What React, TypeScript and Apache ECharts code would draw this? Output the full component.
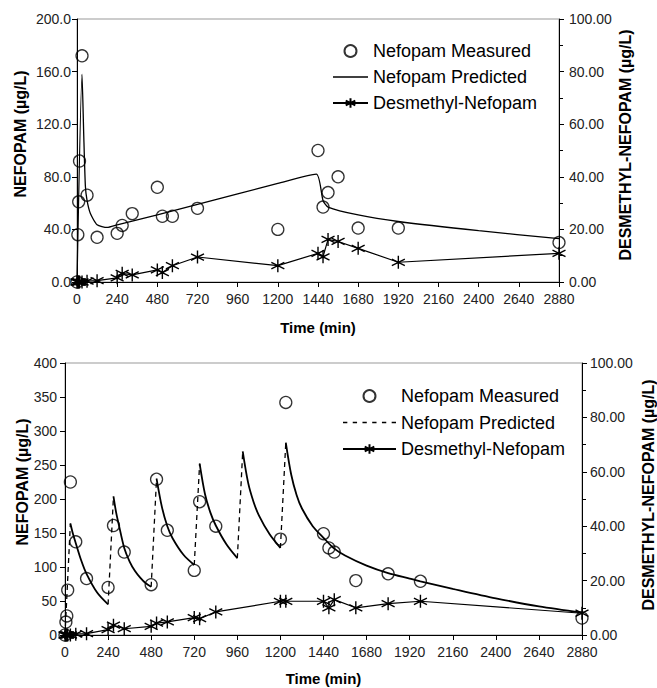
import React, { useEffect, useRef } from "react";
import * as echarts from "echarts";

const FONT = 'Arial, "Liberation Sans", Helvetica, sans-serif';

// ---------- Top chart data ----------
const topMeasuredTime = [0, 5, 10, 15, 30, 60, 120, 240, 270, 330, 480, 510, 570, 720, 1200, 1440, 1470, 1500, 1560, 1680, 1920, 2880];
const topMeasured = [0, 36, 61, 92, 172, 66, 34, 37, 43, 52, 72, 50, 50, 56, 40, 100, 57, 68, 80, 41, 41, 30];

const topPredTime = [0, 30, 40, 50, 60, 80, 120, 180, 240, 480, 720, 960, 1200, 1430, 1470, 1500, 1680, 1920, 2400, 2880];
const topPred = [0, 158, 113, 73, 62, 52, 43.5, 41.5, 43.5, 51, 59, 67, 75, 82, 62, 57, 51, 46, 39, 33];

const topDesTime = [0, 5, 10, 15, 30, 60, 120, 240, 270, 330, 480, 510, 570, 720, 1200, 1440, 1470, 1500, 1560, 1680, 1920, 2880];
const topDes = [0, 0, 0, 0, 0, 0.3, 0.5, 1.6, 3.3, 2.7, 4.6, 3.6, 6.2, 9.5, 6.2, 10.9, 9.6, 16.2, 15.4, 12.8, 7.5, 10.9];

// ---------- Bottom chart data ----------
const botMeasuredTime = [0, 5, 10, 15, 30, 60, 120, 240, 270, 330, 480, 510, 570, 720, 750, 840, 1200, 1230, 1440, 1470, 1500, 1620, 1800, 1980, 2880];
const botMeasured = [0, 19, 28, 66, 225, 137, 83, 70, 161, 122, 74, 229, 154, 95, 196, 160, 141, 342, 149, 128, 122, 80, 90, 79, 25];

const botDesTime = [0, 5, 10, 15, 30, 60, 120, 240, 270, 330, 480, 510, 570, 720, 750, 840, 1200, 1230, 1440, 1470, 1500, 1620, 1800, 1980, 2880];
const botDes = [0, 0, 0, 0, 0, 0.3, 0.5, 2, 3.6, 2.3, 3.2, 4.4, 4.8, 6.4, 6.0, 8.5, 12.4, 12.4, 12.4, 10, 13, 10, 11.5, 12.4, 8.0];

// predicted concentration, one list per dosing interval: [time, value]
const botPredIntervals: number[][][] = [
  [[30, 164], [45, 148], [60, 135], [90, 110], [120, 90], [180, 62], [240, 45]],
  [[270, 204], [285, 180], [300, 162], [330, 128], [360, 108], [390, 94], [420, 84], [450, 76], [480, 71]],
  [[510, 230], [540, 188], [570, 160], [600, 142], [660, 118], [720, 103]],
  [[750, 252], [780, 207], [810, 180], [840, 161], [900, 133], [960, 113]],
  [[990, 270], [1020, 224], [1050, 196], [1080, 176], [1140, 148], [1200, 128]],
  [[1230, 283], [1260, 236], [1290, 206], [1320, 186], [1380, 160], [1440, 143], [1500, 127], [1560, 117], [1680, 102], [1800, 91], [1920, 83], [1980, 79], [2160, 68], [2400, 54], [2640, 42], [2880, 33]],
];
const botPredStart = [0, 0];

const timeTicks = { min: 0, max: 2880, interval: 240 };

const STAR = "path://M10,0L10,20M1.34,5L18.66,15M1.34,15L18.66,5";
const SOLID_ICON = "path://M0,0H35V1.3H0Z";
const DASH_ICON =
  "path://M0,0H4V1.3H0ZM9,0H13V1.3H9ZM18,0H22V1.3H18ZM27,0H31V1.3H27ZM36,0H40V1.3H36ZM45,0H49V1.3H45Z";

const zip = (a: number[], b: number[]) => a.map((t, i) => [t, b[i]]);

export default function App() {
  const ref = useRef<HTMLDivElement>(null);

  useEffect(() => {
    if (!ref.current) return;
    const chart = echarts.init(ref.current, undefined, { renderer: "svg" });

    const decayData: any[] = [];
    const jumpData: any[] = [];
    let prev = botPredStart;
    botPredIntervals.forEach((seg, i) => {
      if (i > 0) decayData.push(null);
      seg.forEach((p) => decayData.push(p));
      jumpData.push(prev, seg[0], null);
      prev = seg[seg.length - 1];
    });

    const axisLine = { show: true, onZero: false, lineStyle: { color: "#000", width: 1 } };
    const axisTick = { show: true, inside: false, length: 5, lineStyle: { color: "#000" } };
    const lbl = (extra: any) => ({ fontSize: 14, fontFamily: FONT, color: "#222", ...extra });

    const xAxisBase = (grid: number, gap: number) => ({
      type: "value",
      gridIndex: grid,
      ...timeTicks,
      axisLine,
      axisTick,
      splitLine: { show: false },
      axisLabel: lbl({ margin: 10, formatter: (v: number) => String(v) }),
      name: "Time (min)",
      nameLocation: "middle",
      nameGap: gap,
      nameTextStyle: { fontSize: 15, fontWeight: "bold", fontFamily: FONT, color: "#000" },
    });

    const rightAxis = (grid: number, margin: number) => ({
      type: "value",
      gridIndex: grid,
      position: "right",
      min: 0,
      max: 100,
      interval: 20,
      axisLine,
      axisTick,
      minorTick: { show: true, splitNumber: 2, length: 4, lineStyle: { color: "#000" } },
      splitLine: { show: false },
      axisLabel: lbl({ margin, formatter: (v: number) => v.toFixed(2) }),
    });

    const measuredStyle = {
      type: "scatter",
      symbol: "circle",
      symbolSize: 12,
      itemStyle: { color: "rgba(0,0,0,0)", borderColor: "#000", borderWidth: 1.3 },
      z: 4,
    };
    const desStyle = {
      type: "line",
      symbol: STAR,
      symbolSize: 13,
      showAllSymbol: true,
      itemStyle: { color: "#000", borderColor: "#000", borderWidth: 1.4 },
      lineStyle: { color: "#000", width: 1.2 },
      z: 3,
    };

    const legendBase = {
      orient: "vertical",
      itemHeight: 12,
      selectedMode: false,
      textStyle: { fontSize: 18, fontFamily: FONT, color: "#000" },
    };

    const titleText = (x: number, y: number, text: string) => ({
      type: "text",
      x,
      y,
      rotation: Math.PI / 2,
      style: {
        text,
        fontSize: 16,
        fontWeight: "bold",
        fontFamily: FONT,
        fill: "#000",
        align: "center",
        verticalAlign: "middle",
      },
    });

    chart.setOption({
      animation: false,
      backgroundColor: "#fff",
      grid: [
        { left: 77, top: 19, width: 482, height: 263, show: true, borderColor: "#999", borderWidth: 1 },
        { left: 65, top: 363, width: 517, height: 272, show: true, borderColor: "#999", borderWidth: 1 },
      ],
      xAxis: [xAxisBase(0, 38), xAxisBase(1, 36)],
      yAxis: [
        {
          type: "value",
          gridIndex: 0,
          position: "left",
          min: 0,
          max: 200,
          interval: 40,
          axisLine,
          axisTick,
          splitLine: { show: false },
          axisLabel: lbl({ margin: 6, formatter: (v: number) => v.toFixed(1) }),
        },
        rightAxis(0, 10),
        {
          type: "value",
          gridIndex: 1,
          position: "left",
          min: 0,
          max: 400,
          interval: 50,
          axisLine,
          axisTick,
          splitLine: { show: false },
          axisLabel: lbl({ margin: 8 }),
        },
        rightAxis(1, 8),
      ],
      legend: [
        {
          ...legendBase,
          left: 327,
          top: 37,
          itemWidth: 35,
          itemGap: 8,
          data: [
            { name: "Nefopam Measured" },
            { name: "Nefopam Predicted", icon: SOLID_ICON, itemStyle: { color: "#000", borderWidth: 0 } },
            { name: "Desmethyl-Nefopam" },
          ],
        },
        {
          ...legendBase,
          left: 337,
          top: 382,
          itemWidth: 53,
          itemGap: 8.5,
          data: [
            { name: "Nefopam Measured" },
            { name: "Nefopam Predicted", icon: DASH_ICON, itemStyle: { color: "#000", borderWidth: 0 } },
            { name: "Desmethyl-Nefopam" },
          ],
        },
      ],
      graphic: [
        titleText(20, 134, "NEFOPAM (µg/L)"),
        titleText(625, 145, "DESMETHYL-NEFOPAM (µg/L)"),
        titleText(22, 482, "NEFOPAM (µg/L)"),
        titleText(648, 495, "DESMETHYL-NEFOPAM (µg/L)"),
      ],
      series: [
        {
          name: "Nefopam Predicted",
          type: "line",
          xAxisIndex: 0,
          yAxisIndex: 0,
          data: zip(topPredTime, topPred),
          showSymbol: false,
          symbol: "none",
          smooth: 0.2,
          itemStyle: { color: "#000" },
          lineStyle: { color: "#000", width: 1.3 },
          z: 2,
        },
        { ...measuredStyle, name: "Nefopam Measured", xAxisIndex: 0, yAxisIndex: 0, data: zip(topMeasuredTime, topMeasured) },
        { ...desStyle, name: "Desmethyl-Nefopam", xAxisIndex: 0, yAxisIndex: 1, data: zip(topDesTime, topDes) },

        {
          name: "Nefopam Predicted curve",
          type: "line",
          xAxisIndex: 1,
          yAxisIndex: 2,
          data: decayData,
          connectNulls: false,
          showSymbol: false,
          symbol: "none",
          smooth: 0.3,
          itemStyle: { color: "#000" },
          lineStyle: { color: "#000", width: 1.8 },
          z: 2,
        },
        {
          name: "Nefopam Predicted",
          type: "line",
          xAxisIndex: 1,
          yAxisIndex: 2,
          data: jumpData,
          connectNulls: false,
          showSymbol: false,
          symbol: "none",
          itemStyle: { color: "#000" },
          lineStyle: { color: "#000", width: 1.3, type: [5, 4] },
          z: 2,
        },
        { ...measuredStyle, name: "Nefopam Measured", xAxisIndex: 1, yAxisIndex: 2, data: zip(botMeasuredTime, botMeasured) },
        { ...desStyle, name: "Desmethyl-Nefopam", xAxisIndex: 1, yAxisIndex: 3, data: zip(botDesTime, botDes) },
      ],
    });

    return () => chart.dispose();
  }, []);

  return (
    <div
      ref={ref}
      style={{ position: "absolute", left: 0, top: 0, width: 657, height: 688, background: "#fff" }}
    />
  );
}
